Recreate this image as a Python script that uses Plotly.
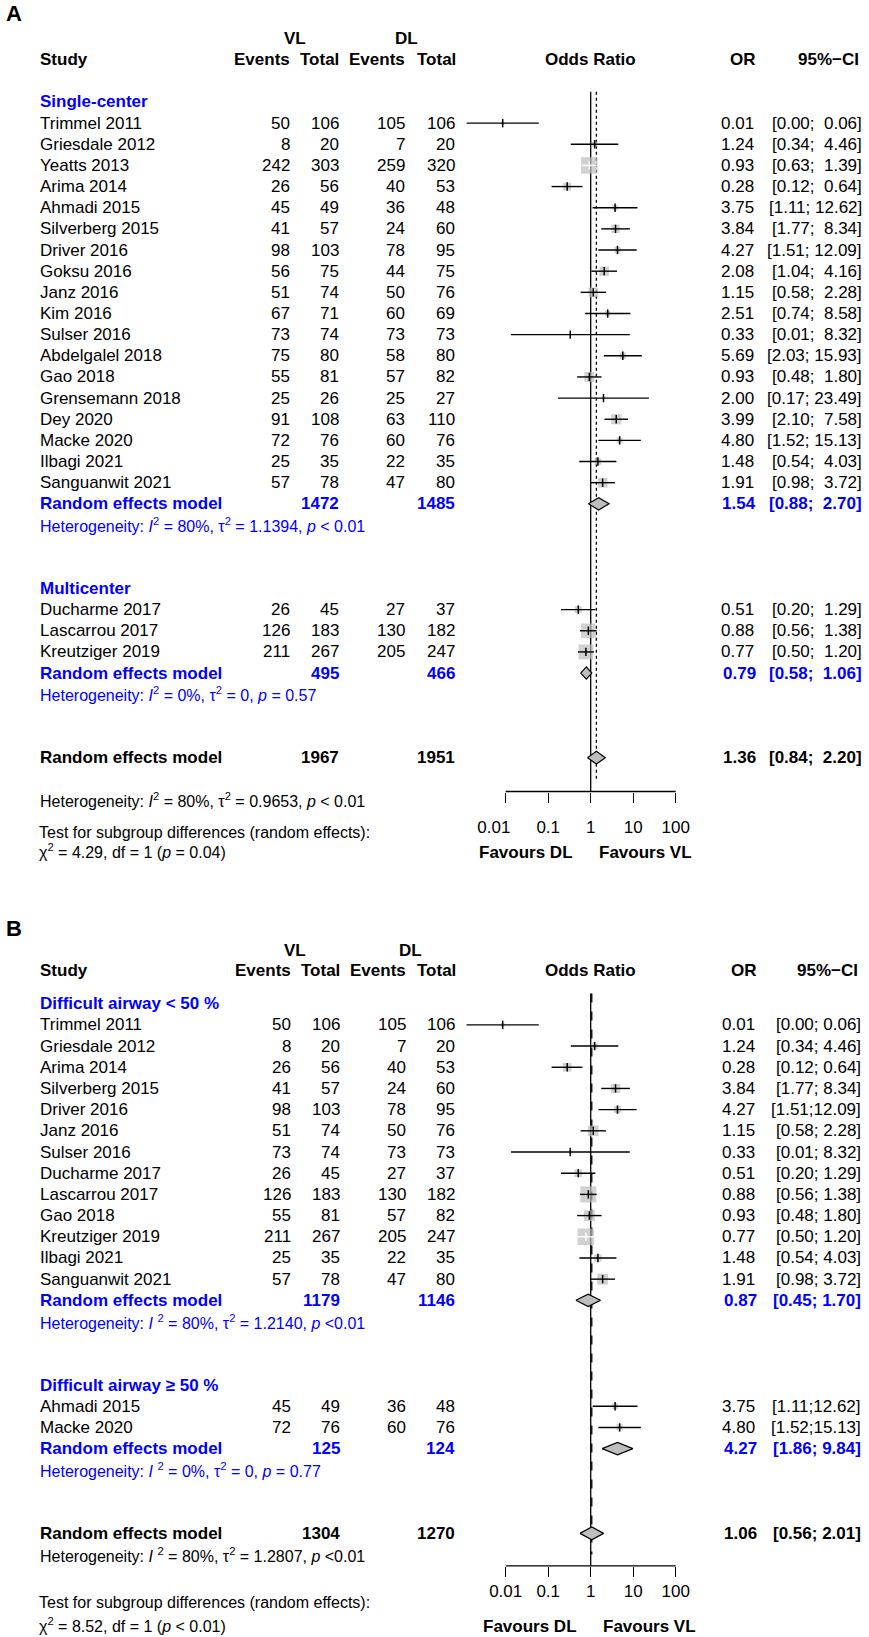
import math
import plotly.graph_objects as go

W, H = 869, 1637
FONT = "Liberation Sans, Arial, Helvetica, sans-serif"
BLUE = "#0000FF"
BLACK = "#000000"
WHITE = "#FFFFFF"
SQ_GRAY = "#BEBEBE"

# ---------------- study-level data ----------------
study = ["Trimmel 2011", "Griesdale 2012", "Yeatts 2013", "Arima 2014", "Ahmadi 2015",
         "Silverberg 2015", "Driver 2016", "Goksu 2016", "Janz 2016", "Kim 2016",
         "Sulser 2016", "Abdelgalel 2018", "Gao 2018", "Grensemann 2018", "Dey 2020",
         "Macke 2020", "Ilbagi 2021", "Sanguanwit 2021", "Ducharme 2017",
         "Lascarrou 2017", "Kreutziger 2019"]
ev_vl = [50, 8, 242, 26, 45, 41, 98, 56, 51, 67, 73, 75, 55, 25, 91, 72, 25, 57, 26, 126, 211]
tot_vl = [106, 20, 303, 56, 49, 57, 103, 75, 74, 71, 74, 80, 81, 26, 108, 76, 35, 78, 45, 183, 267]
ev_dl = [105, 7, 259, 40, 36, 24, 78, 44, 50, 60, 73, 58, 57, 25, 63, 60, 22, 47, 27, 130, 205]
tot_dl = [106, 20, 320, 53, 48, 60, 95, 75, 76, 69, 73, 80, 82, 27, 110, 76, 35, 80, 37, 182, 247]
odds = [0.0085, 1.24, 0.93, 0.28, 3.75, 3.84, 4.27, 2.08, 1.15, 2.51, 0.33, 5.69, 0.93, 2.00,
        3.99, 4.80, 1.48, 1.91, 0.51, 0.88, 0.77]
ci_lo = [0.0012, 0.34, 0.63, 0.12, 1.11, 1.77, 1.51, 1.04, 0.58, 0.74, 0.0133, 2.03, 0.48, 0.17,
         2.10, 1.52, 0.54, 0.98, 0.20, 0.56, 0.50]
ci_hi = [0.06, 4.46, 1.39, 0.64, 12.62, 8.34, 12.09, 4.16, 2.28, 8.58, 8.32, 15.93, 1.80, 23.49,
         7.58, 15.13, 4.03, 3.72, 1.29, 1.38, 1.20]

# ---------------- panel A : subgroup by centre ----------------
a_groups = ["Single-center", "Multicenter"]
a_members = [
    ["Trimmel 2011", "Griesdale 2012", "Yeatts 2013", "Arima 2014", "Ahmadi 2015",
     "Silverberg 2015", "Driver 2016", "Goksu 2016", "Janz 2016", "Kim 2016", "Sulser 2016",
     "Abdelgalel 2018", "Gao 2018", "Grensemann 2018", "Dey 2020", "Macke 2020",
     "Ilbagi 2021", "Sanguanwit 2021"],
    ["Ducharme 2017", "Lascarrou 2017", "Kreutziger 2019"],
]
a_sub_tot_vl = [1472, 495]
a_sub_tot_dl = [1485, 466]
a_sub_or = [1.54, 0.79]
a_sub_lo = [0.88, 0.58]
a_sub_hi = [2.70, 1.06]
a_sub_i2 = ["80%", "0%"]
a_sub_tau2 = ["1.1394", "0"]
a_sub_p = ["&lt; 0.01", "= 0.57"]
a_all_tot = [1967, 1951]
a_all_or = [1.36, 0.84, 2.20]
a_all_het = ["80%", "0.9653", "&lt; 0.01"]
a_test = ["4.29", "1", "= 0.04"]

# ---------------- panel B : subgroup by difficult airway ----------------
b_groups = ["Difficult airway &lt; 50 %", "Difficult airway ≥ 50 %"]
b_members = [
    ["Trimmel 2011", "Griesdale 2012", "Arima 2014", "Silverberg 2015", "Driver 2016",
     "Janz 2016", "Sulser 2016", "Ducharme 2017", "Lascarrou 2017", "Gao 2018",
     "Kreutziger 2019", "Ilbagi 2021", "Sanguanwit 2021"],
    ["Ahmadi 2015", "Macke 2020"],
]
b_sub_tot_vl = [1179, 125]
b_sub_tot_dl = [1146, 124]
b_sub_or = [0.87, 4.27]
b_sub_lo = [0.45, 1.86]
b_sub_hi = [1.70, 9.84]
b_sub_i2 = ["80%", "0%"]
b_sub_tau2 = ["1.2140", "0"]
b_sub_p = ["&lt;0.01", "= 0.77"]
b_all_tot = [1304, 1270]
b_all_or = [1.06, 0.56, 2.01]
b_all_het = ["80%", "1.2807", "&lt;0.01"]
b_test = ["8.52", "1", "&lt; 0.01"]

tick_vals = [0.01, 0.1, 1, 10, 100]
tick_text = ["0.01", "0.1", "1", "10", "100"]

# ---------------- layout helpers ----------------
X_ONE = 590.7           # pixel of OR = 1
DEC = 42.5              # pixels per decade
LOG_RANGE = [-3.5, 2.5]
xdom = [(X_ONE + LOG_RANGE[0] * DEC) / W, (X_ONE + LOG_RANGE[1] * DEC) / W]
NB = "\u00a0"
SQ_MAX = 16.5

fig = go.Figure()
ann = []
shapes = []


def txt(s, px, r, yref, xanchor="left", size=17, color=BLACK, bold=False):
    if bold:
        s = "<b>" + s + "</b>"
    ann.append(dict(text=s, x=px / W, xref="paper", y=r, yref=yref, xanchor=xanchor,
                    yanchor="middle", showarrow=False,
                    font=dict(family=FONT, size=size, color=color)))


def fmt(v):
    return "%.2f" % v


def ci_a(lo, hi):
    return "[" + fmt(lo).rjust(4, NB) + ";" + NB + fmt(hi).rjust(5, NB) + "]"


def ci_b(lo, hi):
    return "[" + fmt(lo) + ";" + fmt(hi).rjust(5, NB) + "]"


def build_panel(xa, yref, groups, members, sub_tv, sub_td, sub_or, sub_lo, sub_hi,
                sub_i2, sub_tau2, sub_p, all_tot, all_or, all_het, test, c):
    sq_x, sq_y, sq_s = [], [], []
    line_x, line_y = [], []
    wline_x, wline_y = [], []
    pt_x, pt_y, wpt_x, wpt_y = [], [], [], []
    allidx = [study.index(n) for g in members for n in g]
    ses = {i: (math.log(ci_hi[i]) - math.log(ci_lo[i])) / (2 * 1.959964) for i in allidx}
    se_min = min(ses.values())

    r = 0
    for gi, g in enumerate(groups):
        txt(g, c["study"], r, yref, bold=True, color=BLUE)
        for n in members[gi]:
            r += 1
            i = study.index(n)
            txt(n, c["study"], r, yref)
            txt(str(ev_vl[i]), c["evl"], r, yref, "right")
            txt(str(tot_vl[i]), c["tvl"], r, yref, "right")
            txt(str(ev_dl[i]), c["edl"], r, yref, "right")
            txt(str(tot_dl[i]), c["tdl"], r, yref, "right")
            txt(fmt(odds[i]), c["or"], r, yref, "right")
            txt(c["cifmt"](ci_lo[i], ci_hi[i]), c["ci"], r, yref, "right")
            side = SQ_MAX * se_min / ses[i]
            sq_x.append(odds[i]); sq_y.append(r); sq_s.append(side)
            ci_len = DEC * math.log10(ci_hi[i] / ci_lo[i])
            if ci_len <= side:
                # CI fully inside the square: drawn in white, as the reference does
                wline_x += [ci_lo[i], ci_hi[i], None]; wline_y += [r, r, None]
                wpt_x.append(odds[i]); wpt_y.append(r)
            else:
                line_x += [ci_lo[i], ci_hi[i], None]; line_y += [r, r, None]
                pt_x.append(odds[i]); pt_y.append(r)
        r += 1
        txt("Random effects model", c["study"], r, yref, bold=True, color=BLUE)
        txt(str(sub_tv[gi]), c["tvl"], r, yref, "right", bold=True, color=BLUE)
        txt(str(sub_td[gi]), c["tdl"], r, yref, "right", bold=True, color=BLUE)
        txt(fmt(sub_or[gi]), c["or"] + 2, r, yref, "right", bold=True, color=BLUE)
        txt(c["cifmt"](sub_lo[gi], sub_hi[gi]), c["ci"], r, yref, "right", bold=True, color=BLUE)
        fig.add_trace(go.Scatter(
            x=[sub_lo[gi], sub_or[gi], sub_hi[gi], sub_or[gi], sub_lo[gi]],
            y=[r, r - 0.29, r, r + 0.29, r], mode="lines", fill="toself",
            fillcolor=SQ_GRAY, line=dict(color=BLACK, width=1.2),
            xaxis=xa, yaxis=yref, hoverinfo="skip", showlegend=False))
        r += 1
        txt("Heterogeneity: <i>I</i>" + c["isp"] + "<sup>2</sup> = " + sub_i2[gi] +
            ", τ<sup>2</sup> = " + sub_tau2[gi] + ", <i>p</i> " + sub_p[gi],
            c["study"], r, yref, size=16, color=BLUE)
        r += 3
    # overall
    r_all = r
    txt("Random effects model", c["study"], r_all, yref, bold=True)
    txt(str(all_tot[0]), c["tvl"], r_all, yref, "right", bold=True)
    txt(str(all_tot[1]), c["tdl"], r_all, yref, "right", bold=True)
    txt(fmt(all_or[0]), c["or"] + 2, r_all, yref, "right", bold=True)
    txt(c["cifmt"](all_or[1], all_or[2]), c["ci"], r_all, yref, "right", bold=True)
    fig.add_trace(go.Scatter(
        x=[all_or[1], all_or[0], all_or[2], all_or[0], all_or[1]],
        y=[r_all, r_all - 0.3, r_all, r_all + 0.3, r_all], mode="lines", fill="toself",
        fillcolor=SQ_GRAY, line=dict(color=BLACK, width=1.2),
        xaxis=xa, yaxis=yref, hoverinfo="skip", showlegend=False))
    txt("Heterogeneity: <i>I</i>" + c["isp"] + "<sup>2</sup> = " + all_het[0] +
        ", τ<sup>2</sup> = " + all_het[1] + ", <i>p</i> " + all_het[2],
        c["study"], r_all + c["het_off"], yref, size=16)
    txt("Test for subgroup differences (random effects):", c["study"] - 1,
        c["test_r"], yref, size=16)
    txt("χ<sup>2</sup> = " + test[0] + ", df = " + test[1] + " (<i>p</i> " + test[2] + ")",
        c["study"] - 1, c["test_r"] + c["test_gap"], yref, size=16)

    # squares, CI lines, point estimates
    fig.add_trace(go.Scatter(x=sq_x, y=sq_y, mode="markers",
                             marker=dict(symbol="square", size=sq_s, color=SQ_GRAY,
                                         line=dict(width=0)),
                             xaxis=xa, yaxis=yref, hoverinfo="skip", showlegend=False))
    for lx, ly, px_, py_, col in ((line_x, line_y, pt_x, pt_y, BLACK),
                                  (wline_x, wline_y, wpt_x, wpt_y, WHITE)):
        if lx:
            fig.add_trace(go.Scatter(x=lx, y=ly, mode="lines",
                                     line=dict(color=col, width=1.4),
                                     xaxis=xa, yaxis=yref, hoverinfo="skip",
                                     showlegend=False))
            fig.add_trace(go.Scatter(x=px_, y=py_, mode="markers",
                                     marker=dict(symbol="line-ns-open", size=6, color=col,
                                                 line=dict(color=col, width=1.5)),
                                     xaxis=xa, yaxis=yref, hoverinfo="skip",
                                     showlegend=False))

    # headers
    txt(c["letter"], 4, c["letter_r"], yref, size=22, bold=True)
    txt("VL", c["vlc"], c["vl_r"], yref, "center", bold=True)
    txt("DL", c["dlc"], c["vl_r"], yref, "center", bold=True)
    hr = c["hdr_r"]
    txt("Study", c["study"], hr, yref, bold=True)
    txt("Events", c["evl"], hr, yref, "right", bold=True)
    txt("Total", c["tvl"], hr, yref, "right", bold=True)
    txt("Events", c["edl"], hr, yref, "right", bold=True)
    txt("Total", c["tdl"] + 1, hr, yref, "right", bold=True)
    txt("Odds Ratio", X_ONE, hr, yref, "center", bold=True)
    txt("OR", c["or"] + 2, hr, yref, "right", bold=True)
    txt("95%−CI", c["ci"] - 3, hr, yref, "right", bold=True)
    txt("Favours DL", c["fav_dl"], c["fav_r"], yref, "right", bold=True)
    txt("Favours VL", c["fav_dl"] + 22, c["fav_r"], yref, "left", bold=True)

    # reference lines and axis line
    shapes.append(dict(type="line", xref=xa, yref=yref, x0=1, x1=1, y0=-0.48,
                       y1=c["axis_r"], line=dict(color=BLACK, width=1.3), layer="below"))
    shapes.append(dict(type="line", xref=xa, yref=yref, x0=all_or[0], x1=all_or[0],
                       y0=-0.48, y1=c["dot_end"],
                       line=dict(color=BLACK, width=1.3, dash=c["dash"]), layer="below"))
    shapes.append(dict(type="line", xref=xa, yref=yref, x0=tick_vals[0], x1=tick_vals[-1],
                       y0=c["axis_r"], y1=c["axis_r"], line=dict(color=BLACK, width=1.3)))


cfgA = dict(study=38, evl=292, tvl=341, edl=407, tdl=457, ci=864, cifmt=ci_a, isp="",
            het_off=2, test_r=34.56, test_gap=0.86, letter="A", letter_r=-4.2, vl_r=-3,
            hdr_r=-2, vlc=295, dlc=406, fav_r=35.5, axis_r=32.6, dot_end=32.0, dash="dot",
            fav_dl=575)
cfgA["or"] = 756
cfgB = dict(study=38, evl=293, tvl=342, edl=408, tdl=457, ci=863, cifmt=ci_b, isp=NB,
            het_off=1, test_r=28.28, test_gap=1.04, letter="B", letter_r=-3.53, vl_r=-2.49,
            hdr_r=-1.55, vlc=295, dlc=410, fav_r=29.41, axis_r=26.53, dot_end=26.0, dash="dash",
            fav_dl=579)
cfgB["or"] = 757

build_panel("x", "y", a_groups, a_members, a_sub_tot_vl, a_sub_tot_dl, a_sub_or, a_sub_lo,
            a_sub_hi, a_sub_i2, a_sub_tau2, a_sub_p, a_all_tot, a_all_or, a_all_het, a_test, cfgA)
build_panel("x2", "y2", b_groups, b_members, b_sub_tot_vl, b_sub_tot_dl, b_sub_or, b_sub_lo,
            b_sub_hi, b_sub_i2, b_sub_tau2, b_sub_p, b_all_tot, b_all_or, b_all_het, b_test, cfgB)

SPLIT = 870
yA_top, yA_bot = -4.82, 36.31
yB_top, yB_bot = -6.31, 29.89
axA_px, axB_px = 791.7, 1566


def xaxis_cfg(pos_px, standoff, labels):
    return dict(type="log", range=LOG_RANGE, domain=xdom, anchor="free",
                position=1 - pos_px / H, showline=False, showgrid=False, zeroline=False,
                ticks="outside", ticklen=10, tickwidth=1.3, tickcolor=BLACK,
                tickvals=tick_vals, ticktext=labels, ticklabelstandoff=standoff,
                tickfont=dict(family=FONT, size=17, color=BLACK), fixedrange=True)


# panel A prints its first tick label slightly left of the tick
tick_text_a = [tick_text[0] + NB * 5] + tick_text[1:]

fig.update_layout(
    width=W, height=H, autosize=False,
    margin=dict(l=0, r=0, t=0, b=0, pad=0),
    paper_bgcolor="white", plot_bgcolor="white",
    showlegend=False,
    xaxis=xaxis_cfg(axA_px, 10, tick_text_a),
    xaxis2=xaxis_cfg(axB_px, 0, tick_text),
    yaxis=dict(domain=[1 - SPLIT / H, 1], range=[yA_bot, yA_top], visible=False,
               fixedrange=True),
    yaxis2=dict(domain=[0, 1 - SPLIT / H], range=[yB_bot, yB_top], visible=False,
                fixedrange=True),
    annotations=ann,
    shapes=shapes,
)

fig.write_html("out.html", post_script="document.body.style.margin='0';",
               config=dict(displayModeBar=False))
